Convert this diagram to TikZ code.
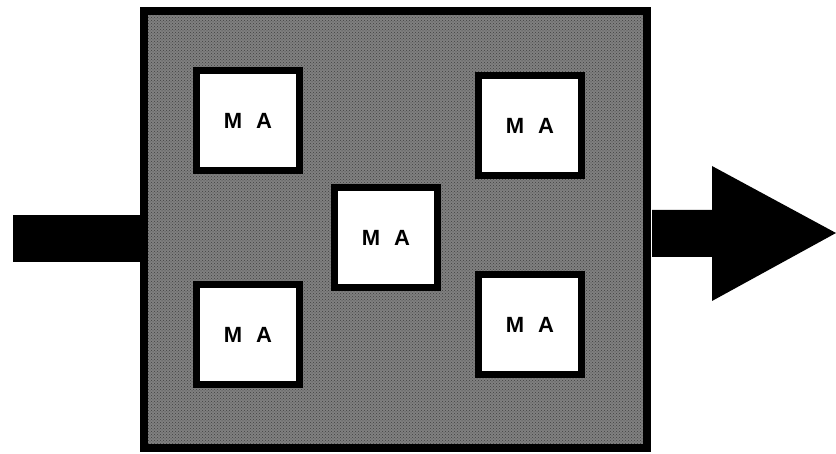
\documentclass[tikz,border=0pt]{standalone}
\usepackage{fontspec}
\setmainfont{Liberation Sans}
\usetikzlibrary{patterns}

\tikzset{
  mabox/.style={draw=black, line width=7pt, fill=white, inner sep=0pt,
    minimum width=103pt, minimum height=100pt,
    font=\bfseries\fontsize{22}{22}\selectfont},
  flowbar/.style={fill=black}
}

\begin{document}
\begin{tikzpicture}[x=1pt, y=-1pt]
        \useasboundingbox (0,0) rectangle (836,454);

        % system (shaded box)
        \fill[black!50] (144,11) rectangle (647,448);
        \fill[pattern=crosshatch dots, pattern color=black!75] (144,11) rectangle (647,448);
        \draw[line width=8pt] (144,11) rectangle (647,448);
        \coordinate (sysW) at (140,238);
        \coordinate (sysE) at (651,233);

        % MA units
        \node[mabox] (tl) at (248,121) {M\hspace{14pt}A};
        \node[mabox] (tr) at (530,126) {M\hspace{14pt}A};
        \node[mabox] (mid) at (386,238) {M\hspace{14pt}A};
        \node[mabox] (bl) at (248,335) {M\hspace{14pt}A};
        \node[mabox] (br) at (530,325) {M\hspace{14pt}A};

        % input
        \fill[flowbar] (13,215) rectangle (sysW |- 0,262);

        % output arrow
        \fill[flowbar] (652,210) -- (712,210) -- (712,166) -- (836,233)
            -- (712,301) -- (712,257) -- (652,257) -- cycle;
    \end{tikzpicture}
\end{document}
